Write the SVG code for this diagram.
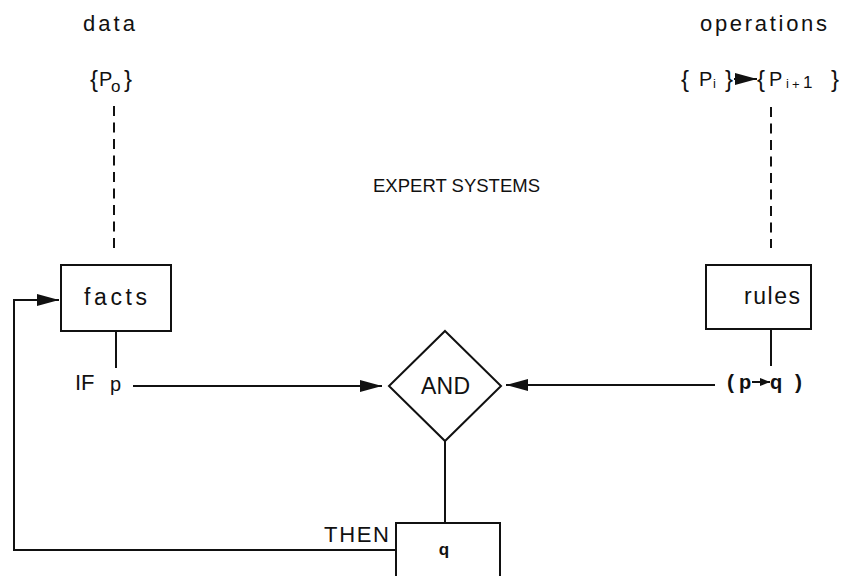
<svg xmlns="http://www.w3.org/2000/svg" width="844" height="576" viewBox="0 0 844 576">
<style>
text{font-family:"Liberation Sans",Arial,sans-serif;fill:#111}
.box{fill:#fff;stroke:#111;stroke-width:2}
.ln{fill:none;stroke:#111;stroke-width:2}
.dash{fill:none;stroke:#111;stroke-width:2;stroke-dasharray:10 6.5}
.lbl{font-size:22px}
</style>
<defs>
<marker id="ah" markerWidth="22" markerHeight="12" refX="22" refY="6" orient="auto" markerUnits="userSpaceOnUse">
<path d="M0,0 L22,6 L0,12 Z" fill="#111"/>
</marker>
<marker id="ahs" markerWidth="10" markerHeight="8" refX="10" refY="4" orient="auto" markerUnits="userSpaceOnUse">
<path d="M0,0 L10,4 L0,8 Z" fill="#111"/>
</marker>
</defs>
<rect width="844" height="576" fill="#fff"/>
<g id="title">
<text x="373" y="192" font-size="18.5" textLength="167" lengthAdjust="spacing">EXPERT SYSTEMS</text>
</g>
<g id="data">
<text x="83" y="31" class="lbl" textLength="52" lengthAdjust="spacing">data</text>
<text x="90" y="87" font-size="24">{</text>
<text x="99" y="86" font-size="20">P</text>
<text x="111" y="92" font-size="17">o</text>
<text x="124" y="87" font-size="24">}</text>
</g>
<g id="operations">
<text x="700" y="31" class="lbl" textLength="127" lengthAdjust="spacing">operations</text>
<text x="681" y="87" font-size="24">{</text>
<text x="699" y="86" font-size="20">P</text>
<text x="713" y="88" font-size="13">i</text>
<text x="725" y="87" font-size="24">}</text>
<line x1="734" y1="79" x2="757" y2="79" class="ln" stroke-width="2.5" marker-end="url(#ah)"/>
<text x="757" y="87" font-size="24">{</text>
<text x="769" y="86" font-size="20">P</text>
<text x="786" y="88" font-size="13">i</text>
<text x="792" y="89" font-size="13">+</text>
<text x="803" y="88" font-size="17">1</text>
<text x="831" y="87" font-size="24">}</text>
</g>
<g id="facts">
<rect x="61" y="265" width="110" height="66" class="box"/>
<text x="84" y="305" font-size="23" textLength="63" lengthAdjust="spacing">facts</text>
</g>
<g id="rules">
<rect x="706" y="265" width="105" height="64" class="box"/>
<text x="744" y="304" font-size="23" textLength="56" lengthAdjust="spacing">rules</text>
</g>
<g id="and">
<path d="M445,331 L501,386 L445,441 L389,386 Z" class="box"/>
<text x="421" y="394" font-size="23" textLength="49" lengthAdjust="spacing">AND</text>
</g>
<g id="q">
<rect x="396" y="523" width="104" height="70" class="box"/>
<text x="444" y="555" font-size="17" font-weight="bold" text-anchor="middle">q</text>
</g>
<g id="labels">
<text x="75" y="390" font-size="22">IF</text>
<text x="110" y="391" font-size="20">p</text>
<text x="727" y="389" font-size="21" font-weight="bold">(</text>
<text x="739" y="389" font-size="20" font-weight="bold">p</text>
<line x1="752" y1="382" x2="770" y2="382" class="ln" stroke-width="2.5" marker-end="url(#ahs)"/>
<text x="770" y="389" font-size="20" font-weight="bold">q</text>
<text x="795" y="389" font-size="21" font-weight="bold">)</text>
<text x="324" y="542" font-size="22" textLength="65" lengthAdjust="spacing">THEN</text>
</g>
<g id="connectors">
<line x1="114" y1="106" x2="114" y2="250" class="dash"/>
<line x1="771" y1="107" x2="771" y2="248" class="dash"/>
<line x1="116" y1="331" x2="116" y2="368" class="ln"/>
<line x1="771" y1="329" x2="771" y2="366" class="ln"/>
<line x1="133" y1="386" x2="382" y2="386" class="ln" marker-end="url(#ah)"/>
<line x1="715" y1="385" x2="506" y2="385" class="ln" marker-end="url(#ah)"/>
<line x1="445" y1="441" x2="445" y2="523" class="ln"/>
<path d="M396,550 L14,550 L14,300 L59,300" class="ln" marker-end="url(#ah)"/>
</g>
</svg>
